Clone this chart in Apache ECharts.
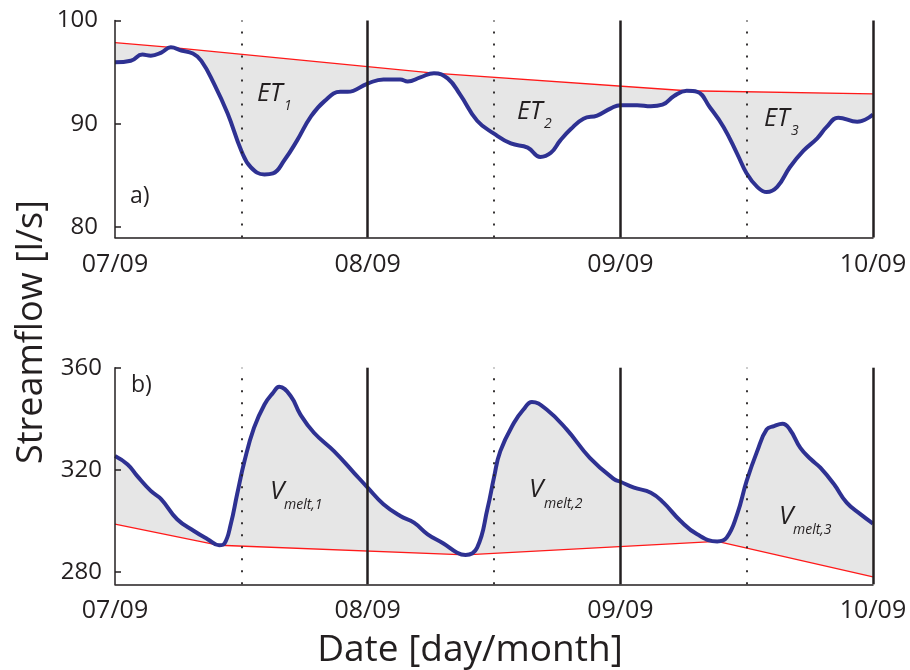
<!DOCTYPE html>
<html><head><meta charset="utf-8">
<script src="https://cdn.jsdelivr.net/npm/echarts@6/dist/echarts.min.js"></script>
<style>html,body{margin:0;padding:0;background:#fff}#c{width:910px;height:670px}</style>
</head><body><div id="c"></div>
<script>
// ---------- data ----------
const dayLabels = ['07/09', '08/09', '09/09', '10/09'];
const dayBoundaries = [24, 48, 72];   // hours since 07/09 00:00
const middays = [12, 36, 60];

// panel a) streamflow [l/s], hours since 07/09 00:00
const hoursA = [0, 1.5, 2.6, 3.4, 4.4, 5.3, 6.3, 7.4, 8.2, 9.4, 10.7, 12.0, 12.9, 14.2, 15.0, 16.1, 17.3, 18.6, 19.9, 21.4, 22.1,
  24.0, 25.5, 27.1, 27.8, 29.0, 30.3, 31.6, 32.8, 34.4, 36.0, 37.6, 39.2, 40.4, 41.4, 42.3, 43.3, 44.5, 45.8, 47.1,
  48.0, 49.6, 50.9, 52.0, 53.1, 54.3, 55.3, 56.5, 57.8, 59.1, 60.0, 61.0, 61.9, 62.9, 64.1, 65.4, 66.7, 67.6, 68.7, 70.5, 72.0];
const flowA = [95.95, 96.1, 96.7, 96.6, 96.9, 97.4, 97.1, 96.8, 96.1, 93.9, 91.0, 87.4, 85.8, 85.1, 85.2, 86.5, 88.4, 90.7, 92.2, 93.1, 93.1,
  93.9, 94.3, 94.3, 94.1, 94.5, 94.9, 94.4, 92.8, 90.3, 89.05, 88.1, 87.7, 86.8, 87.2, 88.4, 89.5, 90.5, 90.8, 91.5,
  91.8, 91.8, 91.7, 91.85, 92.7, 93.2, 93.1, 91.6, 89.7, 87.1, 85.2, 83.9, 83.4, 83.9, 85.8, 87.4, 88.6, 89.7, 90.6, 90.2, 90.9];
const envHoursA = [0, 5.3, 30.3, 54.3, 72];
const envFlowA = [97.85, 97.4, 94.9, 93.2, 92.9];

// panel b)
const hoursB = [0, 1.2, 2.1, 3.4, 4.4, 5.9, 7.5, 8.8, 9.9, 10.4, 11.0, 11.6, 12.3, 13.2, 14.2, 15.0, 15.6, 16.7, 17.6, 18.9, 20.8, 22.7,
  24.0, 25.5, 27.1, 28.4, 29.7, 31.2, 32.5, 33.3, 34.4, 35.4, 36.0, 36.6, 37.9, 38.8, 39.6, 41.0, 42.9, 45.1, 47.4,
  48.0, 49.3, 50.9, 52.1, 53.7, 55.3, 57.2, 58.1, 59.1, 60.0, 61.0, 61.9, 62.6, 63.4, 64.1, 65.1, 66.1, 67.0, 68.3, 69.5, 70.8, 72.0];
const flowB = [325.4, 322.1, 317.6, 311.7, 308.4, 300.6, 296.0, 292.8, 290.4, 291.1, 298.7, 310.4, 323.4, 336.4, 345.6, 350.1, 352.5, 348.8, 341.7, 334.5, 327.3, 318.8,
  313.0, 306.5, 301.9, 299.3, 294.7, 291.1, 287.5, 286.6, 289.5, 305.1, 317.0, 327.3, 338.4, 343.6, 346.6, 343.6, 335.8, 324.7, 316.3,
  315.3, 313.0, 311.0, 307.1, 300.0, 294.7, 291.9, 293.4, 302.6, 315.6, 327.3, 335.8, 337.1, 338.0, 335.8, 328.6, 324.1, 320.8, 314.3, 307.1, 302.6, 298.9];
const envHoursB = [0, 9.9, 33.3, 57.2, 72];
const envFlowB = [298.7, 290.4, 286.6, 291.9, 278.0];

const ticksA = [80, 90, 100];
const ticksB = [280, 320, 360];

// ---------- styling ----------
const FONT = '"Open Sans", "Noto Sans", sans-serif';
const INK = '#231f20';
const BLUE = '#2e3192';
const RED = '#ff1a1a';
const GRAY = '#e6e6e6';

const pairs = (xs, ys) => xs.map((x, i) => [x, ys[i]]);

function xAxisFor(i) {
  return {
    gridIndex: i, type: 'value', min: 0, max: 72, interval: 24,
    axisLine: { show: true, onZero: false, lineStyle: { color: INK, width: 1.5 } },
    axisTick: { show: false }, splitLine: { show: false },
    axisLabel: { formatter: v => dayLabels[Math.round(v / 24)], fontSize: 25, color: INK, fontFamily: FONT,
      margin: i === 0 ? 15 : 14, showMinLabel: true, showMaxLabel: true },
    z: 5
  };
}
function yAxisFor(i, min, max, ticks) {
  return {
    gridIndex: i, type: 'value', min: min, max: max,
    axisLine: { show: true, onZero: false, lineStyle: { color: INK, width: 1.5 } },
    axisTick: { show: true, inside: true, length: 6, lineStyle: { color: INK, width: 1.5 }, customValues: ticks },
    axisLabel: { customValues: ticks, fontSize: 24, color: INK, fontFamily: FONT, margin: i === 0 ? 17 : 13,
      padding: [6, 0, 0, 0] },
    splitLine: { show: false },
    z: 5
  };
}
const vLines = {
  silent: true, symbol: 'none', label: { show: false }, animation: false,
  data: dayBoundaries.map(h => ({ xAxis: h, lineStyle: { color: INK, width: 2.5, type: 'solid' } }))
    .concat(middays.map(h => ({ xAxis: h, lineStyle: { color: INK, width: 1.8, type: [2, 10] } })))
};
const SMOOTH = 0.45;

const series = [
  // panel a
  { type: 'line', xAxisIndex: 0, yAxisIndex: 0, data: pairs(envHoursA, envFlowA), symbol: 'none',
    lineStyle: { color: RED, width: 1.3 }, areaStyle: { color: GRAY, opacity: 1, origin: 'start' }, z: 1 },
  { type: 'line', xAxisIndex: 0, yAxisIndex: 0, data: pairs(hoursA, flowA), symbol: 'none', smooth: SMOOTH,
    lineStyle: { width: 0, opacity: 0 }, areaStyle: { color: '#fff', opacity: 1, origin: 'start' }, z: 2 },
  { type: 'line', xAxisIndex: 0, yAxisIndex: 0, data: pairs(hoursA, flowA), symbol: 'none', smooth: SMOOTH,
    lineStyle: { color: BLUE, width: 4 }, z: 4, markLine: vLines },
  // panel b
  { type: 'line', xAxisIndex: 1, yAxisIndex: 1, data: pairs(hoursB, flowB), symbol: 'none', smooth: SMOOTH,
    lineStyle: { width: 0, opacity: 0 }, areaStyle: { color: GRAY, opacity: 1, origin: 'start' }, z: 1 },
  { type: 'line', xAxisIndex: 1, yAxisIndex: 1, data: pairs(envHoursB, envFlowB), symbol: 'none',
    lineStyle: { color: RED, width: 1.3 }, areaStyle: { color: '#fff', opacity: 1, origin: 'start' }, z: 2 },
  { type: 'line', xAxisIndex: 1, yAxisIndex: 1, data: pairs(hoursB, flowB), symbol: 'none', smooth: SMOOTH,
    lineStyle: { color: BLUE, width: 4 }, z: 4, markLine: vLines }
];

function txt(text, x, y, size, italic, align) {
  return { type: 'text', x: x, y: y, z: 100,
    style: { text: text, font: (italic ? 'italic ' : '') + size + 'px ' + FONT, fill: INK,
      textAlign: align || 'left', textVerticalAlign: 'middle' } };
}

const graphic = [
  txt('a)', 130, 196, 23, false),
  txt('b)', 131, 385, 23, false),
  txt('ET', 257, 93.5, 25, true), txt('1', 284, 106.5, 14, true),
  txt('ET', 517, 112, 25, true), txt('2', 544, 124.5, 14, true),
  txt('ET', 764, 118.5, 25, true), txt('3', 791, 131, 14, true),
  txt('V', 270, 492, 26, true), txt('melt,1', 284, 505.5, 14, true),
  txt('V', 529, 490, 26, true), txt('melt,2', 544, 504.5, 14, true),
  txt('V', 779, 516.5, 26, true), txt('melt,3', 793, 530.5, 14, true),
  { type: 'text', x: 32, y: 332, rotation: Math.PI / 2, z: 100,
    style: { text: 'Streamflow [l/s]', font: '36px ' + FONT, fill: INK, textAlign: 'center', textVerticalAlign: 'middle' } },
  { type: 'text', x: 470, y: 650, z: 100,
    style: { text: 'Date [day/month]', font: '37px ' + FONT, fill: INK, textAlign: 'center', textVerticalAlign: 'middle' } }
];

const chart = echarts.init(document.getElementById('c'), null, { renderer: 'canvas' });
chart.setOption({
  animation: false,
  backgroundColor: '#fff',
  grid: [
    { left: 115, right: 37, top: 20.5, height: 217 },
    { left: 115, right: 37, top: 367.7, height: 216.6 }
  ],
  xAxis: [xAxisFor(0), xAxisFor(1)],
  yAxis: [yAxisFor(0, 79.0, 100, ticksA), yAxisFor(1, 275.1, 360, ticksB)],
  series: series,
  graphic: graphic
});
</script>
</body></html>
